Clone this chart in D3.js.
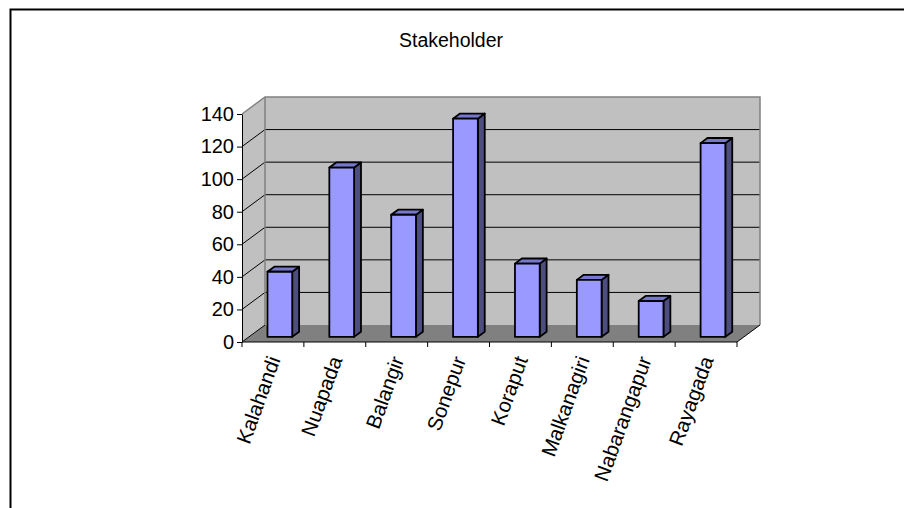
<!DOCTYPE html>
<html>
<head>
<meta charset="utf-8">
<script src="https://cdn.jsdelivr.net/npm/d3@7"></script>
<style>
  html, body { margin: 0; padding: 0; background: #fff; }
  svg { display: block; }
  text { font-family: "Liberation Sans", Arial, sans-serif; fill: #000; }
</style>
</head>
<body>
<svg id="chart" width="904" height="508"></svg>
<script>
// Stakeholder counts per district
const categories = ["Kalahandi", "Nuapada", "Balangir", "Sonepur", "Koraput", "Malkanagiri", "Nabarangapur", "Rayagada"];
const stakeholders = [40, 104, 75, 134, 45, 35, 22, 119];
const yTicks = [0, 20, 40, 60, 80, 100, 120, 140];
const title = "Stakeholder";

const svg = d3.select("#chart");

// Frame around the chart area
svg.append("rect")
  .attr("x", 10.5).attr("y", 9.5)
  .attr("width", 1000).attr("height", 1000)
  .attr("fill", "none").attr("stroke", "#000").attr("stroke-width", 2);

svg.append("text")
  .attr("x", 451).attr("y", 47)
  .attr("text-anchor", "middle")
  .attr("font-size", 19.5)
  .text(title);

// Front plane scales
const x = d3.scaleBand().domain(categories).range([242, 737]);
const y = d3.scaleLinear().domain([0, 140]).range([342, 114]);

// Oblique depth of the plot box
const depth = { dx: 23, dy: -17 };
const P = (px, py, f) => [px + f * depth.dx, py + f * depth.dy];
const poly = pts => pts.map(p => p.join(",")).join(" ");

const x0 = x.range()[0], x1 = x.range()[1];
const yTop = y(140), yBase = y(0);

const g = svg.append("g");

// Left side wall
g.append("polygon")
  .attr("points", poly([P(x0, yTop, 0), P(x0, yTop, 1), P(x0, yBase, 1), P(x0, yBase, 0)]))
  .attr("fill", "#C0C0C0");
// Back wall
g.append("polygon")
  .attr("points", poly([P(x0, yTop, 1), P(x1, yTop, 1), P(x1, yBase, 1), P(x0, yBase, 1)]))
  .attr("fill", "#C0C0C0");
// Floor
g.append("polygon")
  .attr("points", poly([P(x0, yBase, 0), P(x0, yBase, 1), P(x1, yBase, 1), P(x1, yBase, 0)]))
  .attr("fill", "#808080");

// Gridlines across side wall and back wall
const inner = yTicks.filter(v => v > 0 && v < 140);
inner.forEach(v => {
  const a = P(x0, y(v), 0), b = P(x0, y(v), 1), c = P(x1, y(v), 1);
  g.append("polyline")
    .attr("points", poly([a, b, c]))
    .attr("fill", "none").attr("stroke", "#000").attr("stroke-width", 1);
});
// Zero line along the side wall
g.append("line")
  .attr("x1", P(x0, yBase, 0)[0]).attr("y1", P(x0, yBase, 0)[1])
  .attr("x2", P(x0, yBase, 1)[0]).attr("y2", P(x0, yBase, 1)[1])
  .attr("stroke", "#000").attr("stroke-width", 1);

// Wall edges
g.append("polyline")
  .attr("points", poly([P(x0, yTop, 0), P(x0, yTop, 1), P(x1, yTop, 1), P(x1, yBase, 1)]))
  .attr("fill", "none").attr("stroke", "#808080").attr("stroke-width", 1.5);
g.append("line")
  .attr("x1", P(x0, yTop, 1)[0]).attr("y1", P(x0, yTop, 1)[1])
  .attr("x2", P(x0, yBase, 1)[0]).attr("y2", P(x0, yBase, 1)[1])
  .attr("stroke", "#808080").attr("stroke-width", 1.5);
// Floor right edge
g.append("line")
  .attr("x1", P(x1, yBase, 0)[0]).attr("y1", P(x1, yBase, 0)[1])
  .attr("x2", P(x1, yBase, 1)[0]).attr("y2", P(x1, yBase, 1)[1])
  .attr("stroke", "#000").attr("stroke-width", 1);

// Bars: front face at depth 0.3, back face at 0.6
const fFront = 0.3, fBack = 0.6;
const barW = x.bandwidth() * 0.4;
const bars = g.append("g");
categories.forEach((c, i) => {
  const v = stakeholders[i];
  const bx = x(c) + (x.bandwidth() - barW) / 2;
  const l = bx, r = bx + barW, t = y(v), b = y(0);
  const style = s => s.attr("stroke", "#000").attr("stroke-width", 1.8).attr("stroke-linejoin", "round");
  // side face
  bars.append("polygon")
    .attr("points", poly([P(r, t, fFront), P(r, t, fBack), P(r, b, fBack), P(r, b, fFront)]))
    .attr("fill", "#4D4D80").call(style);
  // top face
  bars.append("polygon")
    .attr("points", poly([P(l, t, fFront), P(l, t, fBack), P(r, t, fBack), P(r, t, fFront)]))
    .attr("fill", "#7777CC").call(style);
  // front face
  bars.append("polygon")
    .attr("points", poly([P(l, t, fFront), P(r, t, fFront), P(r, b, fFront), P(l, b, fFront)]))
    .attr("fill", "#9999FF").call(style);
});

// Y axis on the front plane
const yAxis = d3.axisLeft(y).tickValues(yTicks).tickSize(5).tickSizeOuter(0).tickPadding(3);
const ya = svg.append("g").attr("transform", `translate(${x0},0)`).call(yAxis);
ya.select(".domain").attr("stroke", "#000").attr("stroke-width", 1);
ya.selectAll(".tick line").attr("stroke", "#000");
ya.selectAll(".tick text")
  .attr("font-size", 20)
  .attr("font-family", "Liberation Sans, Arial, sans-serif")
  .attr("fill", "#000");

// X axis along the front edge of the floor
const xa = svg.append("g");
xa.append("line")
  .attr("x1", x0).attr("x2", x1).attr("y1", yBase).attr("y2", yBase)
  .attr("stroke", "#000").attr("stroke-width", 1);
const boundaries = categories.map(c => x(c)).concat([x1]);
xa.selectAll("line.tick").data(boundaries).enter().append("line")
  .attr("class", "tick")
  .attr("x1", d => d).attr("x2", d => d)
  .attr("y1", yBase).attr("y2", yBase + 5)
  .attr("stroke", "#000");
xa.selectAll("text").data(categories).enter().append("text")
  .attr("transform", c => `translate(${x(c) + x.bandwidth() / 2 + 1},${yBase + 15}) rotate(-70)`)
  .attr("text-anchor", "end")
  .attr("dy", "0.35em")
  .attr("font-size", 20.5)
  .text(c => c);
</script>
</body>
</html>
